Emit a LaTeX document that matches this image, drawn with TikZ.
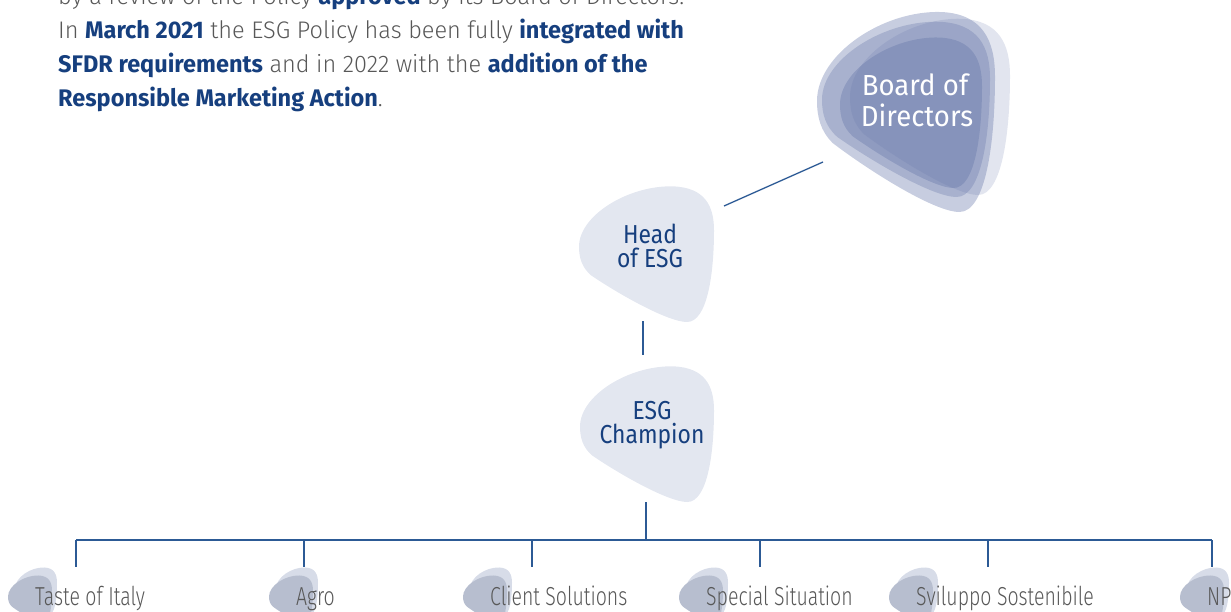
\documentclass[tikz,border=0pt]{standalone}
\usepackage{fontspec}
\setmainfont{Fira Sans}
\newfontfamily\paraf{Fira Sans Light}[FakeStretch=0.98, BoldFont={Fira Sans Bold}]
\newfontfamily\labf{Fira Sans Light}[FakeStretch=0.75]
\newfontfamily\headf{Fira Sans}[FakeStretch=0.88]
\newfontfamily\boardf{Fira Sans}[FakeStretch=0.95]
\definecolor{dblue}{HTML}{163F7E}
\definecolor{txtgray}{HTML}{585858}
\definecolor{lineblue}{HTML}{2C5A95}
\definecolor{pale}{HTML}{E3E7F0}
\definecolor{boardc}{HTML}{5F70A5}
\definecolor{labback}{HTML}{D7DCE8}
\definecolor{labfront}{HTML}{B7BECF}
\newcommand\hl[1]{{\bfseries\color{dblue}#1}}
\newcommand\pickblob[5]{%
  \fill[#5, shift={(#1,#2)}, xscale=#3, yscale=#4]
    (0,0.45) .. controls (0,0.22) and (0.37,0) .. (0.70,0.01)
    .. controls (0.93,0.02) and (1,0.15) .. (1,0.33)
    .. controls (1,0.65) and (0.95,1) .. (0.80,1)
    .. controls (0.66,1) and (0.3,0.8) .. (0.09,0.66)
    .. controls (0.02,0.6) and (0,0.53) .. cycle;}
\tikzset{
  para/.style={anchor=base west, inner sep=0, text=txtgray, font=\paraf\fontsize{24}{28}\selectfont},
  midlab/.style={anchor=base, inner sep=0, text height=17pt, text depth=1pt, text=dblue, font=\headf\fontsize{26}{26}\selectfont},
  boardlab/.style={anchor=base, inner sep=0, text=white, font=\boardf\fontsize{29}{29}\selectfont},
  unitlab/.style={anchor=base west, inner sep=0, text=txtgray, font=\labf\fontsize{26}{26}\selectfont},
  conn/.style={draw=lineblue, line width=1.3pt},
}
\begin{document}
\begin{tikzpicture}[x=1pt, y=-1pt]
\useasboundingbox (0,0) rectangle (1231,611);
\clip (0,0) rectangle (1231,611);
% paragraph
\node[para] (p1) at (58,4) {by a review of the Policy \hl{approved} by its Board of Directors.};
\node[para] (p2) at (58,38) {In \hl{March 2021} the ESG Policy has been fully \hl{integrated with}};
\node[para] (p3) at (58,72) {\hl{SFDR requirements} and in 2022 with the \hl{addition of the}};
\node[para] (p4) at (58,106) {\hl{Responsible Marketing Action}.};
% board
\pickblob{850}{17}{160}{178}{boardc, fill opacity=0.18}
\pickblob{817}{10}{178}{202}{boardc, fill opacity=0.35}
\pickblob{822}{20}{168}{177}{boardc, fill opacity=0.3}
\pickblob{840}{36}{142}{152}{boardc, fill opacity=0.35}
\node[boardlab] (board1) at (915,95) {Board of};
\node[boardlab] (board2) at (917,126) {Directors};
% head and champion
\pickblob{579}{185}{135}{137}{pale}
\node[midlab] (head1) at (650,243) {Head};
\node[midlab] (head2) at (650,267) {of ESG};
\pickblob{580}{365}{134}{137}{pale}
\node[midlab] (champ1) at (652,419) {ESG};
\node[midlab] (champ2) at (652,443) {Champion};
% connectors
\coordinate (bdend) at (823,162);
\coordinate (hdend) at (724,206);
\draw[conn] (bdend) -- (hdend);
\coordinate (hdbot) at (643,321);
\coordinate (chtop) at (643,355);
\draw[conn] (hdbot) -- (chtop);
\coordinate (chbot) at (646,502);
\coordinate (bus) at (646,540);
\draw[conn] (chbot) -- (bus);
\coordinate (busL) at (76,540);
\coordinate (busR) at (1212,540);
\draw[conn] (busL) -- (busR);
\foreach \xx/\nm in {76/a,304/b,532/c,760/d,988/e,1212/f}{
  \coordinate (top\nm) at (\xx,540);
  \coordinate (bot\nm) at (\xx,567);
  \draw[conn] (top\nm) -- (bot\nm);
}
% bottom labels
\foreach \tx/\nm/\lab in {35/ua/Taste of Italy,296/ub/Agro,490/uc/Client Solutions,706/ud/Special Situation,916/ue/Sviluppo Sostenibile,1207/uf/NP}{
  \pickblob{\tx-20}{567}{42}{48}{labback}
  \pickblob{\tx-27}{575}{44}{48}{labfront}
  \node[unitlab] (\nm) at (\tx,605) {\lab};
}
\end{tikzpicture}
\end{document}
